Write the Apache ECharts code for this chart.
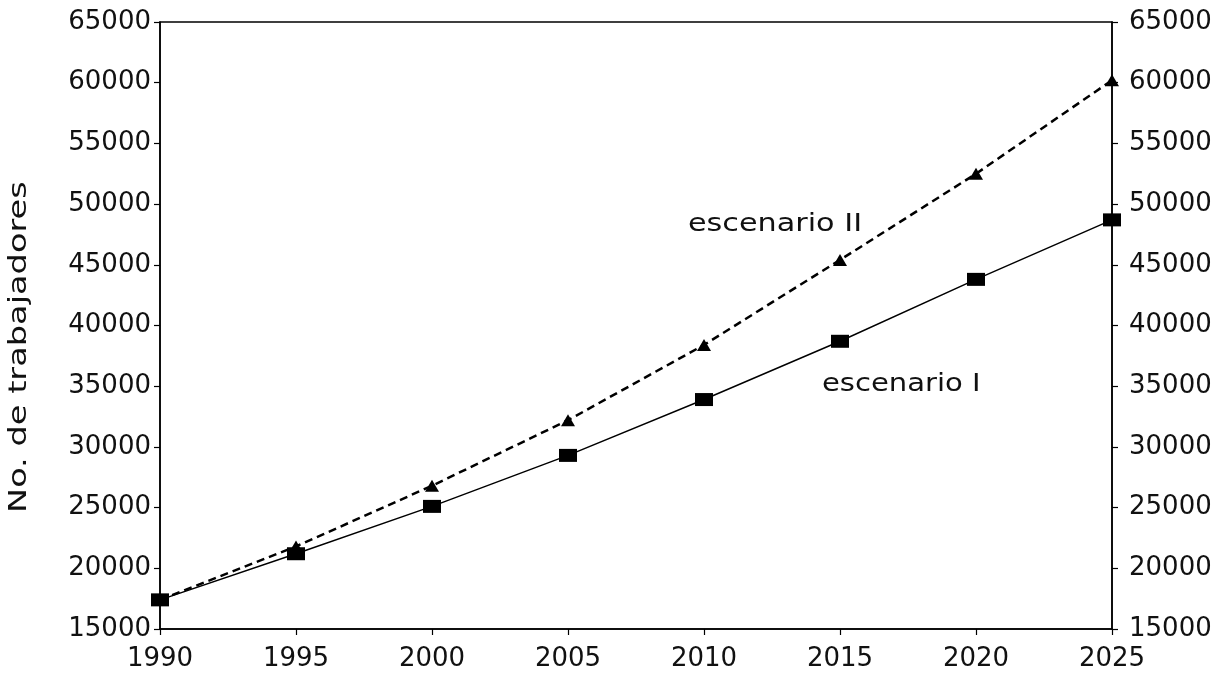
<!DOCTYPE html>
<html>
<head>
<meta charset="utf-8">
<script src="https://cdn.jsdelivr.net/npm/echarts@6/dist/echarts.min.js"></script>
<style>
html,body{margin:0;padding:0;background:#fff;}
#chart{width:1229px;height:677px;}
</style>
</head>
<body>
<div id="chart"></div>
<script>
const years = [1990, 1995, 2000, 2005, 2010, 2015, 2020, 2025];
const escenarioI = [17400, 21200, 25100, 29300, 33900, 38700, 43800, 48700];
const escenarioII = [17400, 21800, 26800, 32200, 38400, 45400, 52500, 60200];
const yAxisName = 'No. de trabajadores';
const labelI = 'escenario I';
const labelII = 'escenario II';

const font = 'DejaVu Sans, Liberation Sans, sans-serif';
const chart = echarts.init(document.getElementById('chart'));

const yAxisBase = {
  type: 'value', min: 15000, max: 65000, interval: 5000,
  splitLine: {show: false},
  axisLine: {show: true, lineStyle: {color: '#000', width: 1.5}},
  axisTick: {show: true, length: 6, lineStyle: {color: '#000', width: 1.2}},
  axisLabel: {color: '#111', fontSize: 26, fontFamily: font,
    formatter: v => String(v)}
};

chart.setOption({
  animation: false,
  backgroundColor: '#fff',
  grid: {left: 160, right: 117, top: 22, bottom: 48, show: true,
    borderColor: '#000', borderWidth: 1.5, containLabel: false},
  xAxis: {
    type: 'value', min: 1990, max: 2025, interval: 5,
    splitLine: {show: false},
    axisLine: {show: true, onZero: false, lineStyle: {color: '#000', width: 1.5}},
    axisTick: {show: true, length: 6, lineStyle: {color: '#000', width: 1.2}},
    axisLabel: {color: '#111', fontSize: 26, fontFamily: font, margin: 17,
      formatter: v => String(v)}
  },
  yAxis: [
    Object.assign({}, yAxisBase, {position: 'left',
      axisLabel: Object.assign({}, yAxisBase.axisLabel, {margin: 9})}),
    Object.assign({}, yAxisBase, {position: 'right',
      axisLabel: Object.assign({}, yAxisBase.axisLabel, {margin: 17})})
  ],
  graphic: [
    {type: 'text', x: 8, y: 513, rotation: Math.PI / 2, scaleX: 1.4,
      style: {text: yAxisName, fontSize: 24, fontFamily: font, fill: '#111',
        textAlign: 'left', textVerticalAlign: 'top'}},
    {type: 'text', x: 688, y: 225, scaleX: 1.26,
      style: {text: labelII, fontSize: 24, fontFamily: font, fill: '#111',
        textAlign: 'left', textVerticalAlign: 'middle'}},
    {type: 'text', x: 822, y: 385, scaleX: 1.21,
      style: {text: labelI, fontSize: 24, fontFamily: font, fill: '#111',
        textAlign: 'left', textVerticalAlign: 'middle'}}
  ],
  series: [
    {
      name: labelI, type: 'line', yAxisIndex: 0,
      data: years.map((y, i) => [y, escenarioI[i]]),
      symbol: 'rect', symbolSize: [18, 13],
      itemStyle: {color: '#000'},
      lineStyle: {color: '#000', width: 1.5, type: 'solid'},
      z: 3
    },
    {
      name: labelII, type: 'line', yAxisIndex: 0,
      data: years.map((y, i) => [y, escenarioII[i]]),
      symbol: 'triangle', symbolSize: [14, 12],
      itemStyle: {color: '#000'},
      lineStyle: {color: '#000', width: 2.5, type: [8, 5]},
      z: 4
    }
  ]
});
</script>
</body>
</html>
